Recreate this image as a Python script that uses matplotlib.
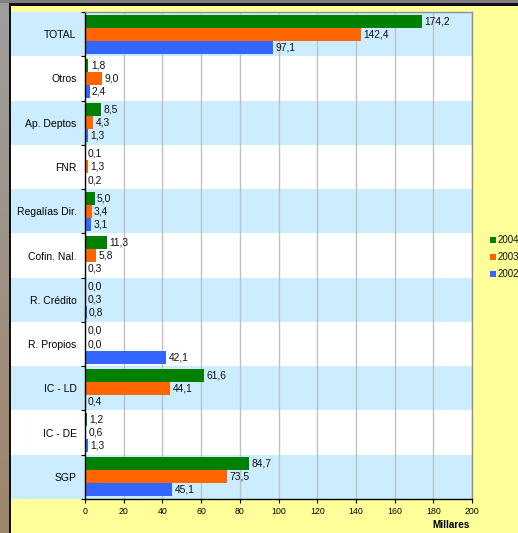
import matplotlib
matplotlib.use("Agg")
import matplotlib.pyplot as plt
import matplotlib.transforms as mtransforms
from matplotlib.patches import Rectangle
import numpy as np

plt.rcParams['font.family'] = ['Liberation Sans', 'DejaVu Sans']

categories = ["TOTAL", "Otros", "Ap. Deptos", "FNR", "Regalías Dir.", "Cofin. Nal.",
              "R. Crédito", "R. Propios", "IC - LD", "IC - DE", "SGP"]
v2004 = [174.2, 1.8, 8.5, 0.1, 5.0, 11.3, 0.0, 0.0, 61.6, 1.2, 84.7]
v2003 = [142.4, 9.0, 4.3, 1.3, 3.4, 5.8, 0.3, 0.0, 44.1, 0.6, 73.5]
v2002 = [97.1, 2.4, 1.3, 0.2, 3.1, 0.3, 0.8, 42.1, 0.4, 1.3, 45.1]
series = [("2004", v2004, "#008000"), ("2003", v2003, "#FF6600"), ("2002", v2002, "#3366FF")]
xticks = [0, 20, 40, 60, 80, 100, 120, 140, 160, 180, 200]

W, H = 518, 533
fig = plt.figure(figsize=(W / 100, H / 100), dpi=100, facecolor="#FFFF99")

def fx(px):
    return px / W

def fy(py):
    return 1 - py / H

# decorative frame (left strip and top strip)
strip = fig.add_axes([0, 0, fx(9), 1])
grad = np.linspace(0, 1, 256)[:, None]
c_top = np.array([0.62, 0.62, 0.62])
c_bot = np.array([0.62, 0.52, 0.42])
img = (c_top[None, None, :] * (1 - grad[:, :, None]) + c_bot[None, None, :] * grad[:, :, None])
strip.imshow(img, aspect="auto", extent=[0, 1, 0, 1])
strip.axis("off")
fig.patches.append(Rectangle((0, fy(3)), 1, fy(0) - fy(3), transform=fig.transFigure,
                             facecolor="#808080", edgecolor="none", zorder=1))
fig.patches.append(Rectangle((fx(9), fy(5.5)), 1, fy(3) - fy(5.5), transform=fig.transFigure,
                             facecolor="#111111", edgecolor="none", zorder=2))
fig.patches.append(Rectangle((fx(9), 0), fx(2), fy(3), transform=fig.transFigure,
                             facecolor="#111111", edgecolor="none", zorder=2))

left, right, top, bottom = 85, 472, 12, 499
ax = fig.add_axes([fx(left), fy(bottom), fx(right) - fx(left), fy(top) - fy(bottom)])
ax.set_facecolor("white")

n = len(categories)
ypos = np.arange(n)[::-1]  # TOTAL at top
ax.set_ylim(-0.5, n - 0.5)
ax.set_xlim(0, 200)

# alternating bands extending into the label area
trans = mtransforms.blended_transform_factory(fig.transFigure, ax.transData)
for i, y in enumerate(ypos):
    col = "#CCECFF" if i % 2 == 0 else "white"
    ax.add_patch(Rectangle((fx(11), y - 0.5), fx(right) - fx(11), 1.0, transform=trans,
                           facecolor=col, edgecolor="none", clip_on=False, zorder=0.1))

ax.set_axisbelow(True)
ax.xaxis.grid(True, color="#C0C0C0", lw=1.0)
ax.yaxis.grid(False)

bh = 0.295
offsets = [bh, 0, -bh]
for (name, vals, col), off in zip(series, offsets):
    ax.barh(ypos + off, vals, height=bh, color=col, zorder=2)
    for y, v in zip(ypos, vals):
        ax.text(v + 1.2, y + off, f"{v:.1f}".replace(".", ","), va="center", ha="left",
                fontsize=7.4, color="#111111", zorder=3)

# axes styling
ax.set_xticks(xticks)
ax.set_xticklabels([str(t) for t in xticks], fontsize=6.3)
ax.tick_params(axis="x", length=3, width=0.8, pad=3, color="black")
ax.set_yticks(ypos)
ax.set_yticklabels(categories, fontsize=7.5)
ax.tick_params(axis="y", which="major", length=0, pad=6)
ax.set_yticks(np.arange(n + 1) - 0.5, minor=True)
ax.tick_params(axis="y", which="minor", length=3, width=0.8, color="black")
for s in ["left", "bottom"]:
    ax.spines[s].set_color("black")
    ax.spines[s].set_linewidth(1.0)
for s in ["top", "right"]:
    ax.spines[s].set_color("#909090")
    ax.spines[s].set_linewidth(1.0)

fig.text(fx(451), fy(525), "Millares", ha="center", va="center", fontsize=7.2, fontweight="bold")

# legend
leg_y = [240, 257, 274]
for (name, vals, col), py in zip(series, leg_y):
    fig.patches.append(Rectangle((fx(490), fy(py + 3)), fx(6), fy(py - 3) - fy(py + 3),
                                 transform=fig.transFigure, facecolor=col, edgecolor="none"))
    fig.text(fx(498), fy(py), name, ha="left", va="center", fontsize=7, color="#111111")

fig.savefig("out.png", dpi=100, facecolor=fig.get_facecolor())
